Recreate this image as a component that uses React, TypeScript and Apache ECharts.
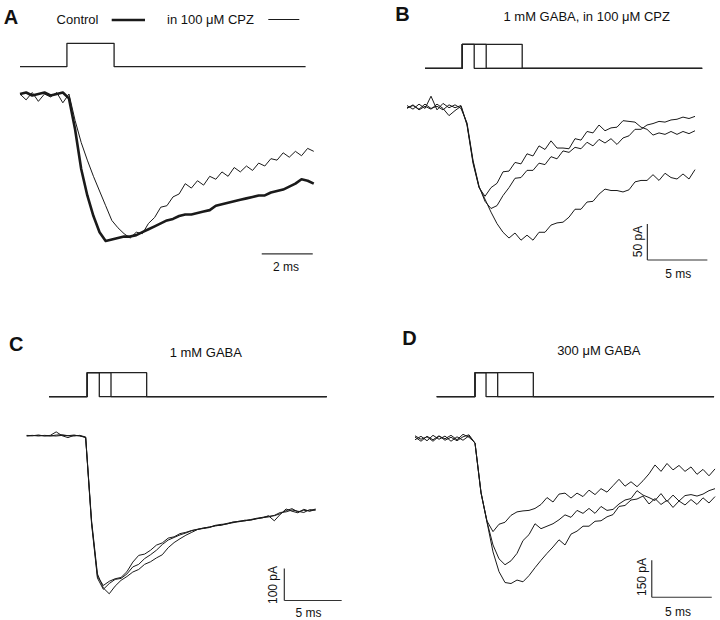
import React, { useEffect, useRef } from "react";
import * as echarts from "echarts";

// ---------- DATA ----------
// Panel A: normalized current (control peak = -1), sampled every 0.24 ms
const A_SAMPLE_MS = 0.24;
const A_CONTROL = [0.0, 0.01, -0.01, 0.0, 0.01, -0.01, 0.0, 0.01, -0.03, -0.24, -0.51, -0.69, -0.83, -0.94, -1.0, -0.99, -0.98, -0.97, -0.97, -0.96, -0.94, -0.92, -0.9, -0.88, -0.86, -0.85, -0.83, -0.82, -0.82, -0.81, -0.8, -0.79, -0.76, -0.75, -0.74, -0.73, -0.72, -0.71, -0.7, -0.69, -0.69, -0.67, -0.66, -0.65, -0.63, -0.61, -0.58, -0.59, -0.61];
const A_CPZ = [0.0, -0.04, 0.01, -0.05, 0.0, -0.02, 0.01, -0.06, 0.0, -0.18, -0.33, -0.45, -0.56, -0.66, -0.76, -0.86, -0.91, -0.95, -0.98, -0.94, -0.95, -0.88, -0.84, -0.77, -0.76, -0.7, -0.68, -0.61, -0.64, -0.59, -0.62, -0.56, -0.58, -0.53, -0.56, -0.5, -0.53, -0.49, -0.52, -0.47, -0.49, -0.44, -0.45, -0.4, -0.43, -0.39, -0.42, -0.37, -0.39];
const A_PULSE = { start: 0, onset: 1.84, offsets: [3.69], end: 11.2 };

// Panel B: pA, sampled every 0.5 ms (1, 2, 5 ms pulses of 1 mM GABA in CPZ)
const B_SAMPLE_MS = 0.5;
const B_1MS = [-2, 3, -4, 1, -3, 4, -2, -12, -5, 1, -25, -78, -112, -124, -112, -106, -90, -89, -77, -79, -65, -68, -54, -59, -47, -57, -57, -58, -44, -46, -34, -36, -25, -33, -29, -28, -19, -20, -21, -28, -31, -39, -36, -38, -34, -38, -34, -37, -33];
const B_2MS = [2, -3, 4, -2, 15, -4, 5, -1, 3, -2, -22, -74, -110, -131, -141, -137, -123, -112, -99, -98, -88, -88, -78, -80, -69, -72, -61, -63, -56, -58, -49, -54, -45, -50, -44, -52, -43, -40, -31, -31, -25, -23, -20, -21, -18, -17, -14, -16, -13];
const B_5MS = [-1, 2, -3, 4, -2, 1, -4, 3, -1, 2, -24, -76, -111, -128, -146, -162, -174, -182, -175, -185, -178, -185, -174, -174, -164, -161, -160, -153, -142, -142, -132, -131, -121, -114, -116, -116, -118, -115, -104, -102, -102, -94, -102, -92, -98, -100, -93, -100, -87];
const B_PULSE = { start: 1.5, onset: 4.6, offsets: [5.6, 6.6, 9.6], end: 24.6 };

// Panel C: pA, sampled every 0.514 ms (1 mM GABA)
const C_SAMPLE_MS = 0.514;
const C_1MS = [0, 1, -1, 1, 0, -1, 1, 0, 2, -1, -5, -270, -440, -468, -455, -447, -443, -425, -395, -374, -370, -358, -342, -335, -320, -316, -306, -302, -296, -293, -289, -285, -282, -279, -274, -270, -268, -266, -263, -260, -255, -252, -250, -244, -234, -228, -238, -233, -235, -229];
const C_2MS = [1, 0, 2, -1, 1, 12, 0, -6, 1, 0, -6, -275, -445, -480, -462, -449, -446, -432, -410, -402, -384, -372, -358, -340, -326, -318, -310, -304, -297, -292, -290, -287, -281, -280, -275, -272, -267, -266, -262, -258, -256, -254, -249, -240, -238, -232, -236, -240, -231, -233];
const C_5MS = [-1, 0, 1, 0, -1, 2, 3, 0, -1, 1, -4, -265, -432, -476, -494, -470, -452, -440, -426, -418, -402, -394, -382, -372, -350, -334, -322, -311, -302, -293, -288, -286, -280, -277, -276, -270, -269, -264, -264, -259, -257, -250, -266, -246, -229, -236, -241, -230, -236, -231];
const C_PULSE = { start: 1.95, onset: 5.27, offsets: [6.33, 7.35, 10.46], end: 26.16 };

// Panel D: pA, sampled every 0.5 ms (300 uM GABA)
const D_SAMPLE_MS = 0.5;
const D_1MS = [5, -12, 8, -6, 10, -8, 4, -10, 6, 14, -20, -220, -335, -378, -348, -340, -312, -298, -294, -292, -284, -268, -240, -258, -226, -222, -242, -222, -236, -210, -228, -204, -218, -192, -166, -194, -176, -196, -172, -144, -108, -134, -102, -128, -110, -134, -116, -146, -126, -152, -124];
const D_2MS = [-6, 8, -10, 12, -4, 9, -12, 6, -8, 10, -20, -222, -338, -432, -488, -512, -496, -466, -414, -390, -346, -366, -356, -346, -330, -310, -320, -292, -304, -284, -304, -276, -292, -288, -266, -250, -244, -212, -230, -240, -252, -224, -256, -230, -254, -232, -228, -234, -226, -212, -204];
const D_5MS = [10, -4, 6, -12, 8, -2, 12, -6, 16, 4, -18, -218, -340, -460, -540, -584, -588, -574, -581, -556, -524, -494, -466, -440, -411, -432, -388, -376, -356, -356, -336, -334, -318, -309, -276, -272, -250, -246, -234, -266, -244, -268, -251, -280, -254, -270, -248, -268, -241, -262, -236];
const D_PULSE = { start: 1.81, onset: 5.0, offsets: [5.92, 6.89, 9.86], end: 24.92 };

// Scale bars: corner (ms, current) and lengths
const SCALE_A = { t: 9.48, i: -1.088, ms: 2, amp: 0 };
const SCALE_B = { t: 20.03, i: -212.5, ms: 5, amp: 50 };
const SCALE_C = { t: 22.46, i: -515, ms: 5, amp: 100 };
const SCALE_D = { t: 19.73, i: -643.7, ms: 5, amp: 150 };

// ---------- LAYOUT ----------
const PANELS = [
  { left: 20, top: 64.6, width: 306, height: 205.8, xMax: 12, yMin: -1.2, yMax: 0.2, pTop: 43.3, pH: 23.4 },
  { left: 407, top: 92.6, width: 312, height: 172.8, xMax: 26, yMin: -220, yMax: 20, pTop: 44.3, pH: 24 },
  { left: 26.7, top: 429.3, width: 321.16, height: 172.8, xMax: 28, yMin: -520, yMax: 20, pTop: 372.7, pH: 24 },
  { left: 415, top: 428.4, width: 304.8, height: 172.9, xMax: 25.4, yMin: -660, yMax: 40, pTop: 372.7, pH: 24 },
];

const INK = "#1a1a1a";
const FONT = '"Liberation Sans", Arial, Helvetica, sans-serif';

function trace(values: number[], dt: number, k: number, width: number, name?: string) {
  return {
    type: "line",
    name,
    xAxisIndex: k,
    yAxisIndex: k,
    data: values.map((v, i) => [+(i * dt).toFixed(3), v]),
    symbol: "none",
    showSymbol: false,
    clip: false,
    silent: true,
    lineStyle: { color: INK, width, join: "round" },
  };
}

function pulse(p: { start: number; onset: number; offsets: number[]; end: number }, k: number) {
  return p.offsets.map((off) => ({
    type: "line",
    xAxisIndex: 4 + k,
    yAxisIndex: 4 + k,
    data: [
      [p.start, 0],
      [p.onset, 0],
      [p.onset, 1],
      [off, 1],
      [off, 0],
      [p.end, 0],
    ],
    symbol: "none",
    clip: false,
    silent: true,
    lineStyle: { color: "#222", width: 1.3 },
  }));
}

function scaleBar(s: { t: number; i: number; ms: number; amp: number }, k: number) {
  const out: any[] = [
    {
      type: "line",
      xAxisIndex: k,
      yAxisIndex: k,
      data: [
        [s.t, s.i],
        [s.t + s.ms, s.i],
      ],
      symbol: "none",
      clip: false,
      silent: true,
      lineStyle: { color: "#333", width: 1.2 },
    },
  ];
  if (s.amp) {
    out.push({
      type: "line",
      xAxisIndex: k,
      yAxisIndex: k,
      data: [
        [s.t, s.i],
        [s.t, s.i + s.amp],
      ],
      symbol: "none",
      clip: false,
      silent: true,
      lineStyle: { color: "#333", width: 1.2 },
    });
  }
  return out;
}

function txt(text: string, x: number, y: number, size: number, bold = false, rotation = 0) {
  return {
    type: "text",
    x,
    y,
    rotation,
    silent: true,
    style: {
      text,
      x: 0,
      y: 0,
      font: `${bold ? "bold " : ""}${size}px ${FONT}`,
      fill: "#111",
      align: "center",
      verticalAlign: "middle",
      textAlign: "center",
      textVerticalAlign: "middle",
    },
  };
}

export default function App() {
  const ref = useRef<HTMLDivElement>(null);
  useEffect(() => {
    if (!ref.current) return;
    const chart = echarts.init(ref.current, undefined, { renderer: "svg" });
    const grids: any[] = [];
    const xAxes: any[] = [];
    const yAxes: any[] = [];
    PANELS.forEach((p, k) => {
      grids.push({ left: p.left, top: p.top, width: p.width, height: p.height, outerBoundsMode: "none" });
      xAxes.push({ type: "value", gridIndex: k, min: 0, max: p.xMax, show: false });
      yAxes.push({ type: "value", gridIndex: k, min: p.yMin, max: p.yMax, show: false });
    });
    PANELS.forEach((p, k) => {
      grids.push({ left: p.left, top: p.pTop, width: p.width, height: p.pH, outerBoundsMode: "none" });
      xAxes.push({ type: "value", gridIndex: 4 + k, min: 0, max: p.xMax, show: false });
      yAxes.push({ type: "value", gridIndex: 4 + k, min: 0, max: 1, show: false });
    });

    const series: any[] = [
      trace(A_CPZ, A_SAMPLE_MS, 0, 1, "in 100 μM CPZ"),
      trace(A_CONTROL, A_SAMPLE_MS, 0, 2.6, "Control"),
      trace(B_1MS, B_SAMPLE_MS, 1, 1),
      trace(B_2MS, B_SAMPLE_MS, 1, 1),
      trace(B_5MS, B_SAMPLE_MS, 1, 1),
      trace(C_1MS, C_SAMPLE_MS, 2, 1),
      trace(C_2MS, C_SAMPLE_MS, 2, 1),
      trace(C_5MS, C_SAMPLE_MS, 2, 1),
      trace(D_1MS, D_SAMPLE_MS, 3, 1),
      trace(D_2MS, D_SAMPLE_MS, 3, 1),
      trace(D_5MS, D_SAMPLE_MS, 3, 1),
      ...pulse(A_PULSE, 0),
      ...pulse(B_PULSE, 1),
      ...pulse(C_PULSE, 2),
      ...pulse(D_PULSE, 3),
      ...scaleBar(SCALE_A, 0),
      ...scaleBar(SCALE_B, 1),
      ...scaleBar(SCALE_C, 2),
      ...scaleBar(SCALE_D, 3),
    ];

    const graphic: any[] = [
      txt("A", 11, 17, 20, true),
      txt("B", 402.5, 14, 20, true),
      txt("C", 16.3, 344, 20, true),
      txt("D", 409.5, 337.5, 20, true),
      txt("Control", 77.5, 19.5, 13),
      {
        type: "line",
        silent: true,
        shape: { x1: 111.7, y1: 20, x2: 145, y2: 20 },
        style: { stroke: INK, lineWidth: 2.6 },
      },
      txt("in 100 μM CPZ", 210.5, 19.5, 13),
      {
        type: "line",
        silent: true,
        shape: { x1: 268.3, y1: 19.5, x2: 299.3, y2: 19.5 },
        style: { stroke: INK, lineWidth: 1 },
      },
      txt("1 mM GABA, in 100 μM CPZ", 586.7, 16, 13),
      txt("1 mM GABA", 205.8, 352, 13),
      txt("300 μM GABA", 598.8, 350, 13),
      txt("2 ms", 286, 266.5, 12),
      txt("5 ms", 678.3, 273.5, 12),
      txt("50 pA", 638, 241.5, 12, false, Math.PI / 2),
      txt("5 ms", 308.5, 613, 12),
      txt("100 pA", 272.5, 585, 12, false, Math.PI / 2),
      txt("5 ms", 678, 611.5, 12),
      txt("150 pA", 641.5, 577, 12, false, Math.PI / 2),
    ];

    chart.setOption({
      animation: false,
      backgroundColor: "#ffffff",
      grid: grids,
      xAxis: xAxes,
      yAxis: yAxes,
      series,
      graphic,
    });
    return () => chart.dispose();
  }, []);
  return (
    <div
      ref={ref}
      style={{ position: "fixed", left: 0, top: 0, width: 720, height: 620, background: "#fff" }}
    />
  );
}
